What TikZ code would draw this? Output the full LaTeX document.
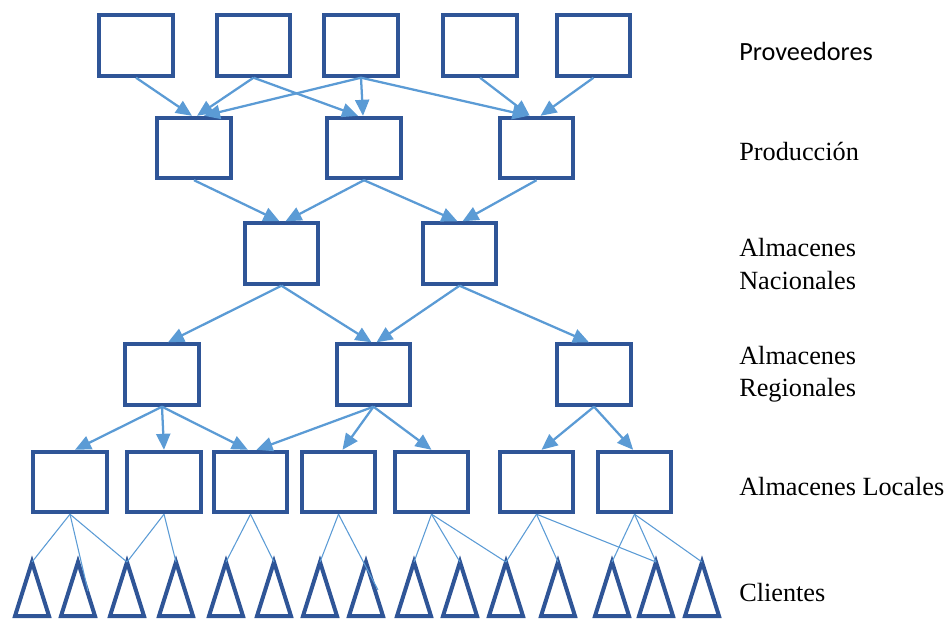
\documentclass[tikz,border=0pt]{standalone}
\usepackage{fontspec}
\setmainfont{Liberation Serif}
\newfontfamily\calibfont{Carlito}
\usetikzlibrary{arrows.meta}
\definecolor{boxblue}{HTML}{2F5597}
\definecolor{arrblue}{HTML}{5B9BD5}
\begin{document}
\begin{tikzpicture}[x=0.75pt,y=-0.75pt,
  box/.style={draw=boxblue,line width=2.8pt,minimum width=55pt,minimum height=45.5pt,inner sep=0pt,fill=white},
  arr/.style={draw=arrblue,line width=1.7pt,-{Triangle[length=12pt,width=10.5pt]}},
  thinline/.style={draw=arrblue,line width=0.8pt},
  tri/.style={draw=boxblue,line width=3pt,line join=miter},
  lab/.style={anchor=base west,inner sep=0pt,font=\fontsize{19.7}{24}\selectfont}]
\useasboundingbox (0,0) rectangle (949,619);

% Proveedores
\node[box] (p1) at (136,45.5) {};
\node[box] (p2) at (253.5,45.5) {};
\node[box] (p3) at (361,45.5) {};
\node[box] (p4) at (480,45.5) {};
\node[box] (p5) at (593.5,45.5) {};
% Produccion
\node[box] (d1) at (194,148) {};
\node[box] (d2) at (364,148) {};
\node[box] (d3) at (536.5,148) {};
% Nacionales
\node[box] (n1) at (281.5,253.5) {};
\node[box] (n2) at (459.5,253.5) {};
% Regionales
\node[box] (r1) at (162,374.5) {};
\node[box] (r2) at (373.5,374.5) {};
\node[box] (r3) at (594,374.5) {};
% Locales
\node[box] (l1) at (70,482) {};
\node[box] (l2) at (164,482) {};
\node[box] (l3) at (250.5,482) {};
\node[box] (l4) at (338.5,482) {};
\node[box] (l5) at (431.5,482) {};
\node[box] (l6) at (536.5,482) {};
\node[box] (l7) at (634.5,482) {};

% arrows level 1 -> 2
\draw[arr] (p1.south) -- ([xshift=-1.5pt]d1.north);
\draw[arr] (p2.south) -- ([xshift=2.25pt]d1.north);
\draw[arr] (p3.south) -- ([xshift=7.5pt]d1.north);
\draw[arr] (p2.south) -- ([xshift=-4.5pt]d2.north);
\draw[arr] (p3.south) -- ([xshift=-0.75pt]d2.north);
\draw[arr] (p3.south) -- ([xshift=-6pt]d3.north);
\draw[arr] (p4.south) -- ([xshift=-5pt]d3.north);
\draw[arr] (p5.south) -- ([xshift=3pt]d3.north);
% level 2 -> 3
\draw[arr] (d1.south) -- ([xshift=-1.5pt]n1.north);
\draw[arr] (d2.south) -- ([xshift=3pt]n1.north);
\draw[arr] (d2.south) -- ([xshift=-1.5pt]n2.north);
\draw[arr] (d3.south) -- ([xshift=2.25pt]n2.north);
% level 3 -> 4
\draw[arr] (n1.south) -- ([xshift=4.5pt]r1.north);
\draw[arr] (n1.south) -- ([xshift=-1.5pt]r2.north);
\draw[arr] (n2.south) -- ([xshift=2.25pt]r2.north);
\draw[arr] (n2.south) -- ([xshift=-3.75pt]r3.north);
% level 4 -> 5
\draw[arr] (r1.south) -- ([xshift=3.75pt]l1.north);
\draw[arr] (r1.south) -- (l2.north);
\draw[arr] (r1.south) -- ([xshift=-2pt]l3.north);
\draw[arr] (r2.south) -- ([xshift=4.5pt]l3.north);
\draw[arr] (r2.south) -- ([xshift=3pt]l4.north);
\draw[arr] (r2.south) -- (l5.north);
\draw[arr] (r3.south) -- ([xshift=3.75pt]l6.north);
\draw[arr] (r3.south) -- ([xshift=-1pt]l7.north);

% clients
\foreach \i/\x in {1/32,2/78,3/127,4/176,5/226,6/274,7/320,8/366,9/414,10/460,11/506,12/558,13/612,14/656,15/702}{
  \coordinate (c\i) at (\x,562);
  \draw[tri] (c\i) -- ++(-17,54) -- ++(34,0) -- cycle;
}
\coordinate (e1) at (88,591);
\coordinate (e2) at (378,590);

\draw[thinline] (l1.south) -- (c1);
\draw[thinline] (l1.south) -- (e1);
\draw[thinline] (l1.south) -- (c3);
\draw[thinline] (l2.south) -- (c3);
\draw[thinline] (l2.south) -- (c4);
\draw[thinline] (l3.south) -- (c5);
\draw[thinline] (l3.south) -- (c6);
\draw[thinline] (l4.south) -- (c7);
\draw[thinline] (l4.south) -- (e2);
\draw[thinline] (l5.south) -- (c9);
\draw[thinline] (l5.south) -- (c10);
\draw[thinline] (l5.south) -- (c11);
\draw[thinline] (l6.south) -- (c11);
\draw[thinline] (l6.south) -- (c12);
\draw[thinline] (l6.south) -- (c14);
\draw[thinline] (l7.south) -- (c13);
\draw[thinline] (l7.south) -- (c14);
\draw[thinline] (l7.south) -- (c15);

% labels
\node[lab,font=\calibfont\fontsize{19.7}{24}\selectfont] (t1) at (739,60) {Proveedores};
\node[lab] (t2) at (739,160) {Producción};
\node[lab] (t3a) at (739,256) {Almacenes};
\node[lab] (t3b) at (739,289) {Nacionales};
\node[lab] (t4a) at (739,364) {Almacenes};
\node[lab] (t4b) at (739,396) {Regionales};
\node[lab] (t5) at (739,495) {Almacenes Locales};
\node[lab] (t6) at (739,601) {Clientes};
\end{tikzpicture}
\end{document}
